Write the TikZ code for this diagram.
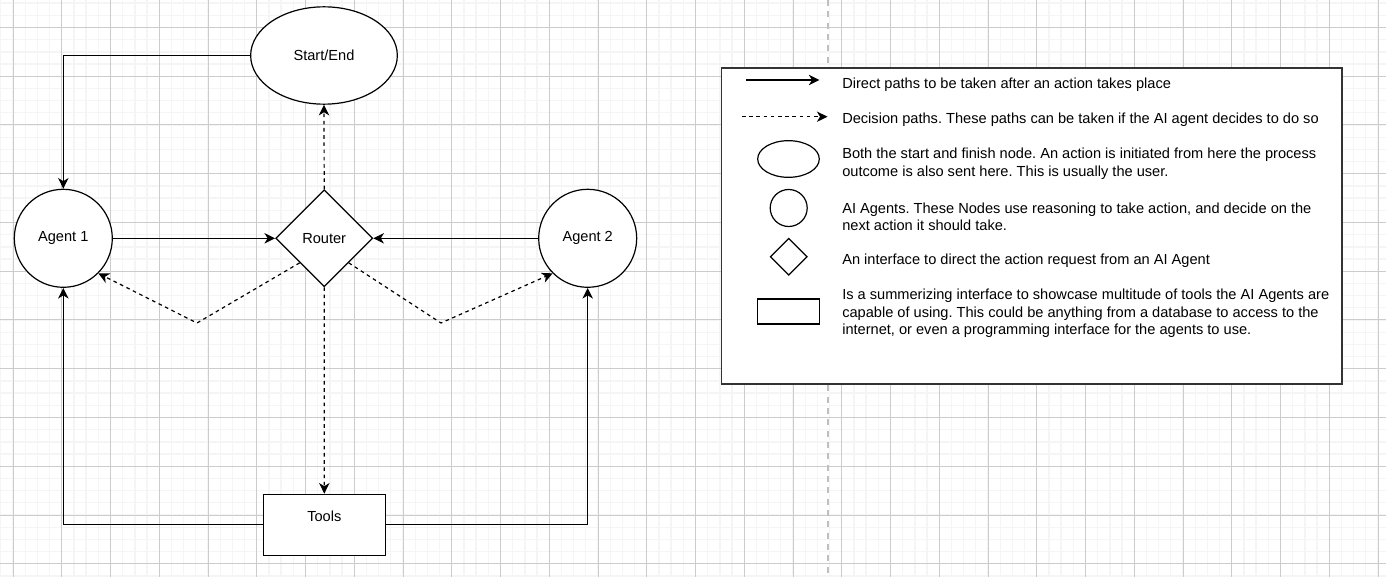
\documentclass[tikz,border=0pt]{standalone}
\usepackage{fontspec}
\setmainfont{Liberation Sans}
\usetikzlibrary{arrows.meta,shapes.geometric,positioning}
\frenchspacing

\begin{document}
\begin{tikzpicture}[x=0.75pt,y=-0.75pt,
    every node/.style={font=\fontsize{10.95}{13.2}\selectfont},
    agent/.style={circle,draw,fill=white,line width=0.9pt,minimum size=73.5pt,inner sep=0pt},
    terminal/.style={ellipse,draw,fill=white,line width=0.9pt,minimum width=110pt,minimum height=73pt,inner sep=0pt},
    router/.style={diamond,draw,fill=white,line width=0.9pt,minimum width=72.75pt,minimum height=72.75pt,inner sep=0pt},
    toolbox/.style={rectangle,draw,fill=white,line width=0.9pt,minimum width=91.5pt,minimum height=45.75pt,inner sep=0pt},
    direct/.style={line width=0.9pt,-{Stealth[length=8pt,width=7.8pt,inset=2.4pt]}},
    decision/.style={direct,dash pattern=on 2.7pt off 2.7pt},
    keytext/.style={anchor=west,align=left,inner sep=0pt}]

\useasboundingbox (0,0) rectangle (1386,577);

    % background grid
    \foreach \i in {-1,...,112}
        \draw[black!4,line width=1pt] ({13+12.1875*\i},0) -- ({13+12.1875*\i},577);
    \foreach \j in {-2,...,45}
        \draw[black!4,line width=1pt] (0,{27.5+12.1875*\j}) -- (1386,{27.5+12.1875*\j});
    \foreach \i in {0,...,28}
        \draw[black!20,line width=0.75pt] ({13+48.75*\i},0) -- ({13+48.75*\i},577);
    \foreach \j in {0,...,11}
        \draw[black!20,line width=0.75pt] (0,{27.5+48.75*\j}) -- (1386,{27.5+48.75*\j});
    \draw[black!25,line width=1.5pt,dash pattern=on 4.5pt off 4pt] (828,0) -- (828,577); % page break

    % flow
    \node[terminal] (se) at (324,55.5) {Start/End};
    \node[agent] (a1) at (63.3,238.3) {Agent 1};
    \node[router] (rt) at (324.2,238.3) {Router};
    \node[agent] (a2) at (587.7,238.3) {Agent 2};
    \node[toolbox,label={[yshift=6.75pt]center:Tools}] (tools) at (324.3,524.8) {};
    \coordinate (bendL) at (197,323);
    \coordinate (bendR) at (441,323);

    \draw[direct] (se.west) -| (a1.north);
    \draw[direct] (a1.east) -- (rt.west);
    \draw[direct] (a2.west) -- (rt.east);
    \draw[decision] (rt.north) -- (se.south);
    \draw[decision] (rt.south) -- (tools.north);
    \draw[decision] (rt.south west) -- (bendL) -- (a1.south east);
    \draw[decision] (rt.south east) -- (bendR) -- (a2.south west);
    \draw[direct] (tools.west) -| (a1.south);
    \draw[direct] (tools.east) -| (a2.south);

    % legend
    \node[draw=black!80,fill=white,line width=1.1pt,minimum width=465.4pt,minimum height=237pt,inner sep=0pt] (key) at (1031.75,226) {};
    \coordinate (k1a) at (746,80);
    \coordinate (k1b) at (819.5,80);
    \coordinate (k2a) at (742,116.7);
    \coordinate (k2b) at (827.5,116.7);
    \draw[direct] (k1a) -- (k1b);
    \draw[decision] (k2a) -- (k2b);
    \node[terminal,minimum width=46.2pt,minimum height=27.5pt] (kse) at (788.5,159) {};
    \node[agent,minimum size=27.75pt] (kag) at (788.7,208) {};
    \node[router,minimum width=27.75pt,minimum height=27.75pt] (krt) at (788.7,256.7) {};
    \node[toolbox,minimum width=46.2pt,minimum height=18.75pt] (ktl) at (788.5,311.5) {};

    \node[keytext] (t1) at (842,85) {Direct paths to be taken after an action takes place};
    \node[keytext] (t2) at (842,119.5) {Decision paths. These paths can be taken if the AI agent decides to do so};
    \node[keytext] (t3) at (842,164) {Both the start and finish node. An action is initiated from here the process\\outcome is also sent here. This is usually the user.};
    \node[keytext] (t4) at (842,216.7) {AI Agents. These Nodes use reasoning to take action, and decide on the\\next action it should take.};
    \node[keytext] (t5) at (842,261) {An interface to direct the action request from an AI Agent};
    \node[keytext] (t6) at (842,313.5) {Is a summerizing interface to showcase multitude of tools the AI Agents are\\capable of using. This could be anything from a database to access to the\\internet, or even a programming interface for the agents to use.};

\end{tikzpicture}
\end{document}
